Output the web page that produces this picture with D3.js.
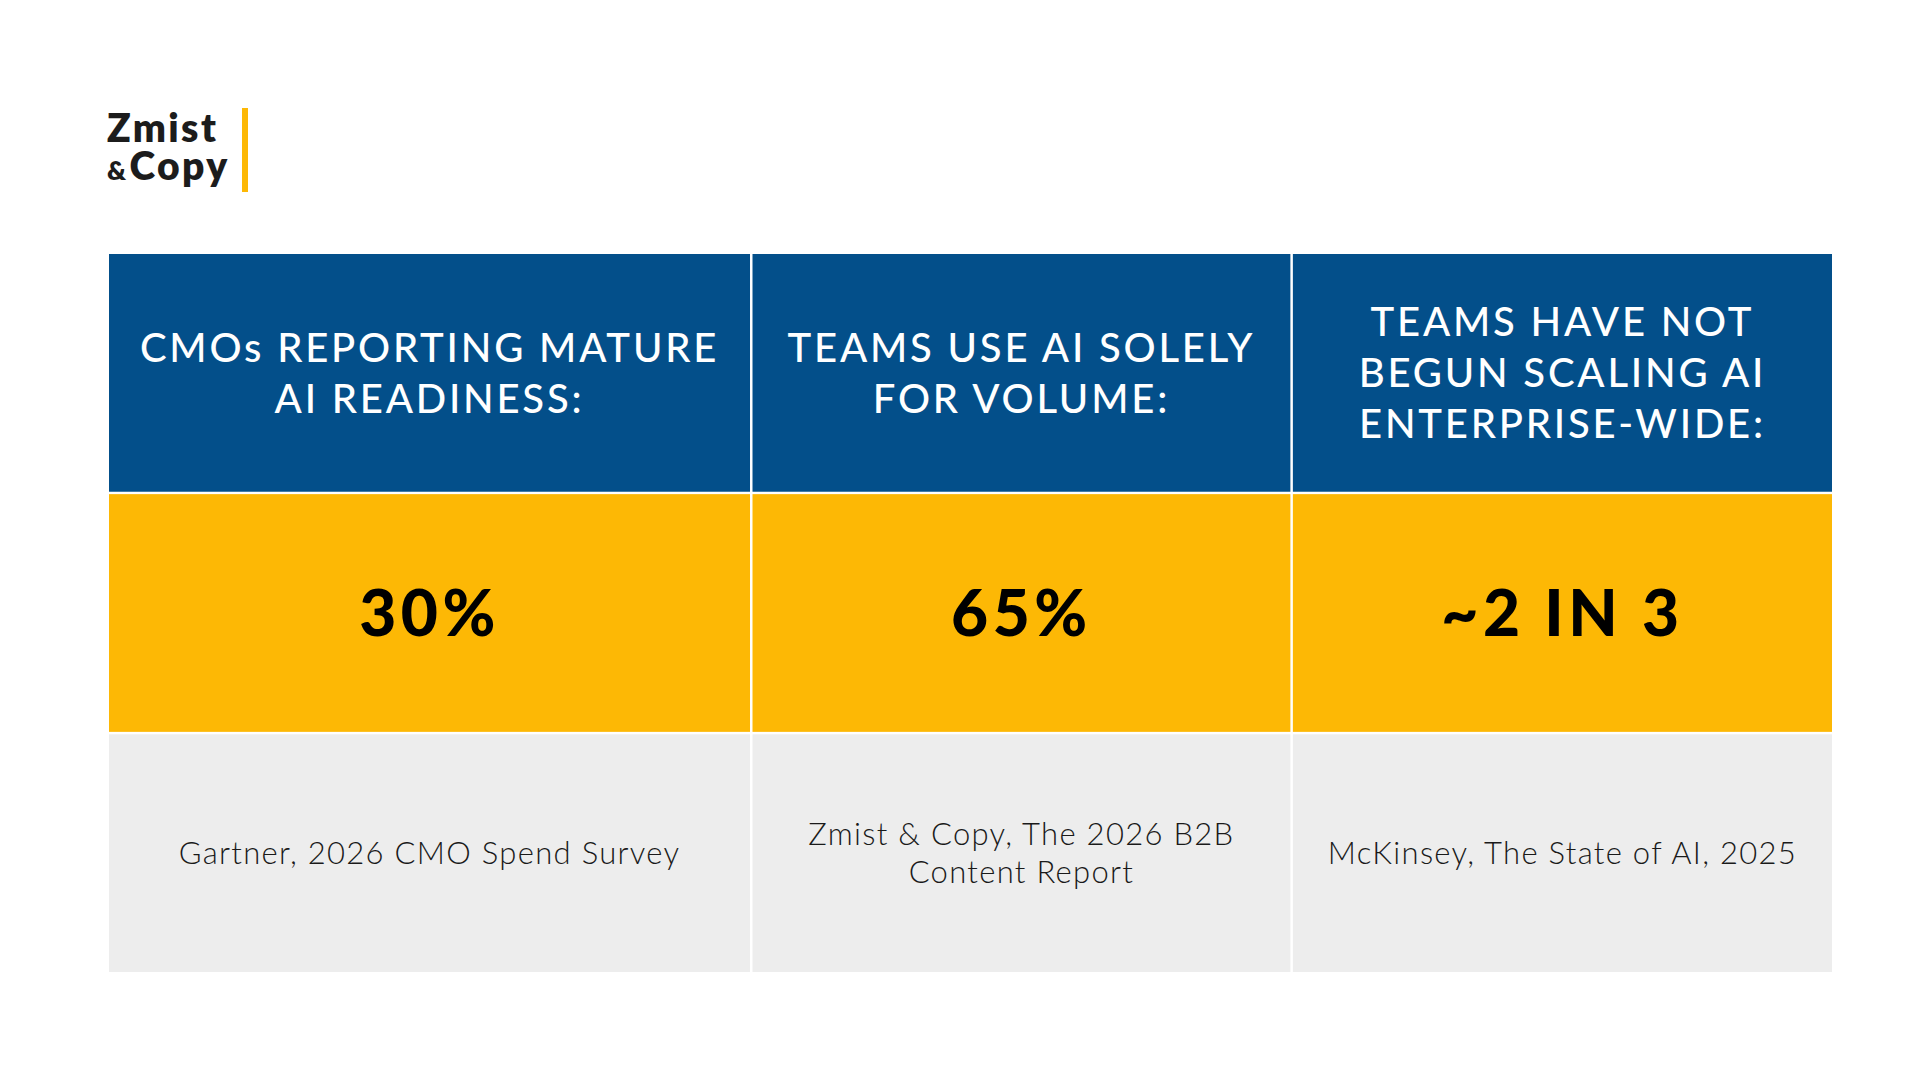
<!DOCTYPE html>
<html>
<head>
<meta charset="utf-8">
<script src="https://cdn.jsdelivr.net/npm/d3@7"></script>
<style>
  html, body { margin: 0; padding: 0; background: #ffffff; }
  svg { display: block; }
</style>
</head>
<body>
<script>
// Table content
const headers = [
    ["CMOs REPORTING MATURE", "AI READINESS:"],
    ["TEAMS USE AI SOLELY", "FOR VOLUME:"],
    ["TEAMS HAVE NOT", "BEGUN SCALING AI", "ENTERPRISE-WIDE:"]
];
const values = ["30%", "65%", "~2 IN 3"];
const sources = [
    ["Gartner, 2026 CMO Spend Survey"],
    ["Zmist & Copy, The 2026 B2B", "Content Report"],
    ["McKinsey, The State of AI, 2025"]
];
const rowNames = ["header", "value", "source"];

// SVG constants
const width = 1920;
const height = 1080;
const table = ({left: 109, right: 1832, top: 254, bottom: 972});
const colWeights = [643, 541, 541];   // first column is a bit wider
const gap = 2.5;                       // white rule between cells
const fill = {header: "#034F8A", value: "#FDB805", source: "#EDEDED"};
const font = "Lato, 'Open Sans', sans-serif";

let svg = d3.select('body').append('svg')
    .attr('width', width)
    .attr('height', height);

// Logo (one text element, two lines)
let logo = svg.append("text")
    .attr("font-family", font)
    .attr("fill", "#1c1c1c")
    .attr("font-weight", 800)
    .attr("letter-spacing", 2.4);
logo.append("tspan")
    .attr("x", 107).attr("y", 142)
    .attr("font-size", 39)
    .text("Zmist");
logo.append("tspan")
    .attr("x", 107).attr("y", 180)
    .attr("font-size", 26)
    .text("&");
logo.append("tspan")
    .attr("dx", 1)
    .attr("font-size", 39)
    .text("Copy");
svg.append("rect")
    .attr("x", 242).attr("y", 108)
    .attr("width", 6).attr("height", 84)
    .attr("fill", "#FDB805");

// Scales
let cum = [0];
colWeights.forEach(w => cum.push(cum[cum.length - 1] + w));
let xScale = d3.scaleLinear()
    .domain([0, cum[cum.length - 1]])
    .range([table.left, table.right]);
let yScale = d3.scaleBand()
    .domain(rowNames)
    .range([table.top, table.bottom])
    .paddingInner(0.01);

let cols = d3.range(headers.length).map(i => ({
    i: i,
    x0: xScale(cum[i]) + (i > 0 ? gap / 2 : 0),
    x1: xScale(cum[i + 1]) - (i < headers.length - 1 ? gap / 2 : 0)
}));

// Cell backgrounds
rowNames.forEach(r => {
    svg.append("g").selectAll("rect")
        .data(cols)
        .enter()
        .append("rect")
        .attr("x", d => d.x0)
        .attr("y", yScale(r))
        .attr("width", d => d.x1 - d.x0)
        .attr("height", yScale.bandwidth())
        .attr("fill", fill[r]);
});

// Multi-line centred text helper
function cellText(lines, cx, cy, size, lh, capRatio) {
    let n = lines.length;
    // baseline of first line so that block of caps is vertically centred
    let firstBase = cy + (capRatio * size) / 2 - (n - 1) * lh / 2;
    return lines.map((t, k) => ({t: t, x: cx, y: firstBase + k * lh}));
}

// Header labels
cols.forEach(c => {
    let cx = (c.x0 + c.x1) / 2;
    let cy = yScale("header") + yScale.bandwidth() / 2;
    svg.append("g").selectAll("text")
        .data(cellText(headers[c.i], cx, cy, 40, 51, 0.72))
        .enter()
        .append("text")
        .attr("x", d => d.x).attr("y", d => d.y)
        .attr("text-anchor", "middle")
        .attr("font-family", font)
        .attr("font-size", 40)
        .attr("font-weight", 500)
        .attr("letter-spacing", 2.8)
        .attr("fill", "#ffffff")
        .text(d => d.t);
});

// Values
svg.append("g").selectAll("text")
    .data(cols)
    .enter()
    .append("text")
    .attr("x", d => (d.x0 + d.x1) / 2)
    .attr("y", yScale("value") + yScale.bandwidth() / 2 + 0.72 * 64 / 2)
    .attr("text-anchor", "middle")
    .attr("font-family", font)
    .attr("font-size", 64)
    .attr("font-weight", 900)
    .attr("letter-spacing", 4.5)
    .attr("fill", "#000000")
    .text(d => values[d.i]);

// Sources
cols.forEach(c => {
    let cx = (c.x0 + c.x1) / 2;
    let cy = yScale("source") + yScale.bandwidth() / 2;
    svg.append("g").selectAll("text")
        .data(cellText(sources[c.i], cx, cy, 30, 38, 0.72))
        .enter()
        .append("text")
        .attr("x", d => d.x).attr("y", d => d.y)
        .attr("text-anchor", "middle")
        .attr("font-family", font)
        .attr("font-size", 31)
        .attr("font-weight", 300)
        .attr("letter-spacing", 1.3)
        .attr("fill", "#1a1a1a")
        .text(d => d.t);
});
</script>
</body>
</html>
